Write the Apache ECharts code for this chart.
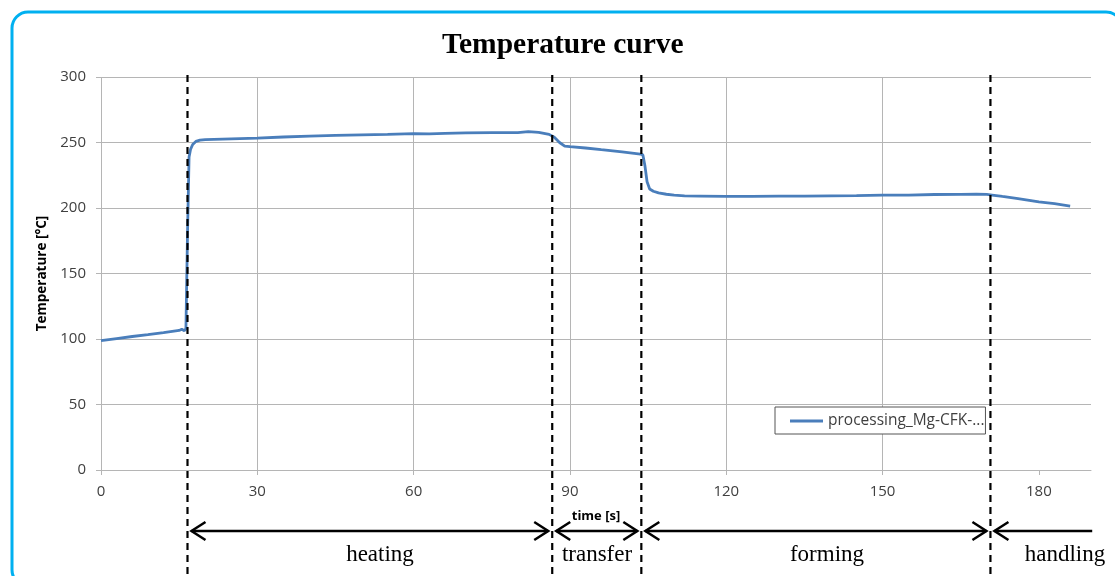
<!DOCTYPE html>
<html>
<head>
<meta charset="utf-8">
<script src="https://cdn.jsdelivr.net/npm/echarts@6/dist/echarts.min.js"></script>
<style>html,body{margin:0;padding:0;background:#fff;}#c{width:1115px;height:576px;}</style>
</head>
<body>
<div id="c"></div>
<script>
var seriesName = 'processing_Mg-CFK-...';
var times = [0, 3, 6, 9, 12, 15, 15.5, 16.0, 16.3, 16.6, 16.9, 17.2, 17.6, 18.2, 19, 20, 25, 30, 35, 40, 45, 50, 55, 60, 63, 66, 70, 75, 80, 82, 84, 86, 87, 88, 89, 90, 93, 96, 100, 103.5, 104, 104.4, 104.8, 105.3, 106, 107, 108.5, 110, 112, 115, 120, 125, 130, 135, 140, 145, 150, 155, 160, 165, 168, 170, 171, 173, 176, 180, 183, 186];
var temps = [98.7, 100.3, 101.9, 103.3, 104.8, 106.5, 107.4, 106.3, 108, 180, 239, 245, 248.5, 250.8, 251.8, 252.2, 252.8, 253.4, 254.2, 254.9, 255.4, 255.8, 256.2, 256.7, 256.6, 257, 257.3, 257.5, 257.6, 258.3, 257.7, 256.2, 254, 250, 247.2, 246.8, 245.8, 244.5, 242.8, 241.2, 240.5, 232, 220, 214.5, 212.8, 211.5, 210.5, 209.8, 209.3, 209.1, 208.8, 208.9, 209, 209.1, 209.3, 209.5, 209.9, 209.9, 210.3, 210.4, 210.6, 210.4, 209.9, 208.8, 207.2, 204.6, 203.3, 201.5];
var xTicks = [0, 30, 60, 90, 120, 150, 180];
var yTicks = [0, 50, 100, 150, 200, 250, 300];
var phaseBounds = [16.6, 86.6, 103.7, 170.7, 191];
var phaseNames = ['heating', 'transfer', 'forming', 'handling'];

var chart = echarts.init(document.getElementById('c'));
var labelColor = '#404040';
var gridColor = '#b5b5b5';
var option = {
  animation: false,
  title: {
    text: 'Temperature curve', left: 442, top: 30, padding: 0,
    textStyle: {fontFamily: 'Liberation Serif', fontWeight: 'bold', fontSize: 29.5, color: '#000'}
  },
  grid: {left: 101, top: 77, width: 990, height: 393},
  legend: {
    left: 775, top: 407, orient: 'horizontal',
    backgroundColor: '#fff', borderColor: '#555', borderWidth: 1,
    padding: [6, 1, 5, 15], icon: 'rect', itemWidth: 33, itemHeight: 3,
    textStyle: {fontFamily: 'Open Sans', fontSize: 15.5, color: labelColor},
    data: [seriesName]
  },
  xAxis: {
    type: 'value', min: 0, max: 190, interval: 30,
    name: 'time [s]', nameLocation: 'middle', nameGap: 40,
    nameTextStyle: {fontFamily: 'Open Sans', fontWeight: 'bold', fontSize: 13, color: '#000'},
    axisLine: {show: true, lineStyle: {color: gridColor, width: 1}},
    axisTick: {show: true, length: 5, lineStyle: {color: gridColor}, customValues: xTicks},
    axisLabel: {margin: 14, fontFamily: 'Open Sans', fontSize: 15, color: labelColor,
      customValues: xTicks},
    splitLine: {show: true, showMaxLine: false, lineStyle: {color: gridColor, width: 1}}
  },
  yAxis: {
    type: 'value', min: 0, max: 300, interval: 50,
    name: 'Temperature [°C]', nameLocation: 'middle', nameGap: 52,
    nameTextStyle: {fontFamily: 'Open Sans', fontWeight: 'bold', fontSize: 13.5, color: '#000'},
    axisLine: {show: false},
    axisTick: {show: true, length: 5, lineStyle: {color: gridColor}},
    axisLabel: {margin: 15, fontFamily: 'Open Sans', fontSize: 15, color: labelColor, customValues: yTicks},
    splitLine: {show: true, lineStyle: {color: gridColor, width: 1}}
  },
  series: [{
    name: seriesName, type: 'line', showSymbol: false, smooth: false,
    data: times.map(function (t, i) { return [t, temps[i]]; }),
    lineStyle: {color: '#4a7ebb', width: 2.8},
    itemStyle: {color: '#4a7ebb'}
  }]
};
chart.setOption(option);

var arrowY = 531;
var labelCenters = [380, 597, 827, 1065];
var graphics = [{
  type: 'rect', shape: {x: 12, y: 12, width: 1110, height: 574, r: 16},
  style: {fill: 'none', stroke: '#00b0f0', lineWidth: 3}, silent: true, z: 100
}];
var topY = chart.convertToPixel({gridIndex: 0}, [0, 300])[1] - 2;
var px = phaseBounds.map(function (t) { return chart.convertToPixel({gridIndex: 0}, [t, 0])[0]; });
for (var i = 0; i < 4; i++) {
  graphics.push({
    type: 'line', shape: {x1: px[i], y1: topY, x2: px[i], y2: 580},
    style: {stroke: '#000', lineWidth: 2.2, lineDash: [7, 5]}, z: 50
  });
}
function head(x, dir) {
  return {
    type: 'polyline',
    shape: {points: [[x + dir * 14, arrowY - 9], [x, arrowY], [x + dir * 14, arrowY + 9]]},
    style: {stroke: '#000', lineWidth: 2.5, fill: 'none'}, z: 50
  };
}
for (var j = 0; j < 4; j++) {
  var a = px[j] + 4, b = px[j + 1] - 4;
  graphics.push({type: 'line', shape: {x1: a, y1: arrowY, x2: b, y2: arrowY}, style: {stroke: '#000', lineWidth: 2.5}, z: 50});
  graphics.push(head(a, 1));
  if (j < 3) graphics.push(head(b, -1));
  graphics.push({
    type: 'text', x: labelCenters[j], y: 555,
    style: {text: phaseNames[j], fontFamily: 'Liberation Serif', fontSize: 23, fill: '#000', align: 'center', verticalAlign: 'middle'},
    z: 50
  });
}
chart.setOption({graphic: graphics});
</script>
</body>
</html>
